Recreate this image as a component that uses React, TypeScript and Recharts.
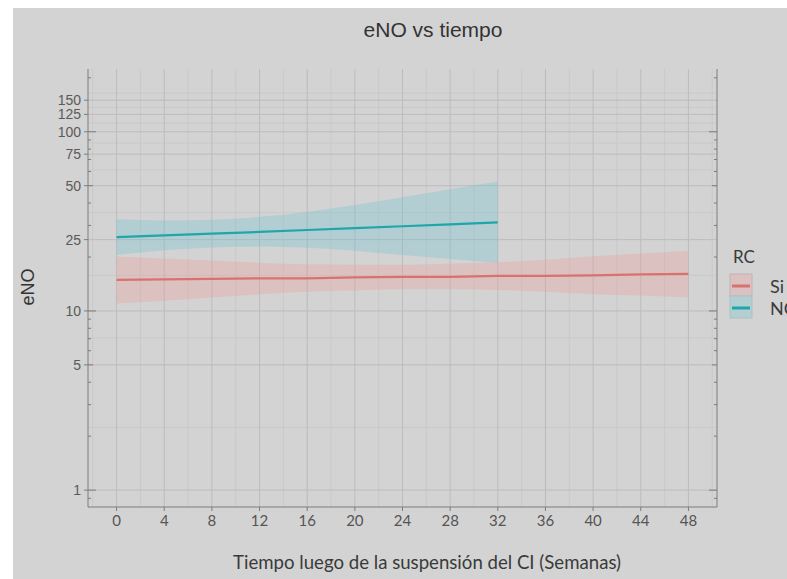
import React from 'react';
import { ComposedChart, XAxis, YAxis, CartesianGrid, Area, Line } from 'recharts';

// ---- data ----
const weeks = [0, 4, 8, 12, 16, 20, 24, 28, 32, 36, 40, 44, 48];
const siFit = [14.9, 15.0, 15.1, 15.2, 15.2, 15.4, 15.5, 15.5, 15.7, 15.7, 15.8, 16.0, 16.1];
const siLower = [11.0, 11.4, 11.9, 12.4, 12.8, 13.0, 13.2, 13.2, 13.1, 12.8, 12.4, 12.2, 11.9];
const siUpper = [20.1, 19.6, 19.1, 18.6, 18.2, 18.1, 18.1, 18.4, 18.7, 19.3, 20.2, 20.9, 21.7];
const noFit = [25.8, 26.4, 27.0, 27.6, 28.3, 29.0, 29.7, 30.4, 31.2];
const noLower = [20.5, 21.8, 22.6, 22.9, 22.5, 21.7, 20.5, 19.5, 18.5];
const noUpper = [32.5, 32.0, 32.3, 33.5, 35.7, 39.0, 43.1, 47.7, 52.7];

const seriesNames = ['Si', 'NO'];
const legendTitle = 'RC';
const chartTitle = 'eNO vs tiempo';
const xTitle = 'Tiempo luego de la suspensión del CI (Semanas)';
const yTitle = 'eNO';

const xTicks = [0, 4, 8, 12, 16, 20, 24, 28, 32, 36, 40, 44, 48];
const xMinor = [-2, 2, 6, 10, 14, 18, 22, 26, 30, 34, 38, 42, 46, 50];
const yTicks = [1, 5, 10, 25, 50, 75, 100, 125, 150];
const yMinor = [2.24, 7.07, 15.8, 35.4, 61.2, 86.6, 111.8, 136.9, 164.3];
const logLong = [1, 10, 100];
const logMid = [5, 50];
const logShort = [0.9, 2, 3, 4, 6, 7, 8, 9, 20, 30, 40, 60, 70, 80, 90, 200];

const xDomain = [-2.4, 50.4];
const yDomain = [0.805, 224];

const leftTicks = Array.from(new Set([...yTicks, ...logLong, ...logMid, ...logShort])).sort((a, b) => a - b);
const rightTicks = [...logLong, ...logMid, ...logShort].sort((a, b) => a - b);

const data = weeks.map((t, i) => ({
  t,
  siFit: siFit[i],
  siBand: [siLower[i], siUpper[i]],
  noFit: i < noFit.length ? noFit[i] : null,
  noBand: i < noFit.length ? [noLower[i], noUpper[i]] : null,
}));

const RED = '#d9726d';
const TEAL = '#1ea6a9';
const BG = '#d3d3d3';
const AXIS = '#7c7c7c';

const logLen = (v: number) =>
  logLong.includes(v) ? 8 : logMid.includes(v) ? 5 : logShort.includes(v) ? 3 : 0;

const LeftTick = (props: any) => {
  const { x, y, payload } = props;
  const v = payload.value as number;
  const ax = x + 7;
  const inLen = logLen(v);
  const labeled = yTicks.includes(v);
  return (
    <g>
      {labeled && <line x1={ax - 4} x2={ax} y1={y} y2={y} stroke={AXIS} />}
      {inLen > 0 && <line x1={ax} x2={ax + inLen} y1={y} y2={y} stroke={AXIS} />}
      {labeled && (
        <text
          x={x}
          y={y}
          dy="0.36em"
          textAnchor="end"
          fontSize={14}
          fill="#5a5a5a"
          fontFamily="Liberation Sans, Arial, sans-serif"
        >
          {v}
        </text>
      )}
    </g>
  );
};

const RightTick = (props: any) => {
  const { x, y, payload } = props;
  const len = logLen(payload.value as number);
  return <line x1={x - len} x2={x} y1={y} y2={y} stroke={AXIS} />;
};

export default function App() {
  const W = 774;
  const H = 571;
  return (
    <div style={{ position: 'absolute', left: 13, top: 8, width: W, height: H, background: BG, overflow: 'hidden' }}>
      <ComposedChart
        width={W}
        height={H}
        data={data}
        margin={{ top: 61, right: 60, bottom: 42, left: 15 }}
      >
        <CartesianGrid
          xAxisId={0}
          yAxisId="y"
          horizontalValues={yMinor}
          verticalValues={xMinor}
          stroke="#c9c9c9"
          strokeWidth={1}
        />
        <CartesianGrid
          xAxisId={0}
          yAxisId="y"
          horizontalValues={yTicks}
          verticalValues={xTicks}
          stroke="#bcbcbc"
          strokeWidth={1}
        />
        <XAxis
          xAxisId={0}
          dataKey="t"
          type="number"
          domain={xDomain}
          allowDataOverflow
          ticks={xTicks}
          interval={0}
          height={30}
          tickSize={4}
          tickMargin={4}
          axisLine={{ stroke: AXIS }}
          tickLine={{ stroke: AXIS }}
          tick={{ fill: '#555', fontSize: 15, fontFamily: 'Lato, sans-serif' }}
        />
        <XAxis
          xAxisId="top"
          orientation="top"
          mirror
          type="number"
          domain={xDomain}
          allowDataOverflow
          tick={false}
          tickLine={false}
          axisLine={{ stroke: AXIS }}
          height={0}
        />
        <YAxis
          yAxisId="y"
          scale="log"
          type="number"
          domain={yDomain}
          allowDataOverflow
          ticks={leftTicks}
          interval={0}
          width={60}
          tickSize={4}
          tickMargin={3}
          axisLine={{ stroke: AXIS }}
          tickLine={false}
          tick={LeftTick}
        />
        <YAxis
          yAxisId="r"
          orientation="right"
          scale="log"
          type="number"
          domain={yDomain}
          allowDataOverflow
          ticks={rightTicks}
          interval={0}
          width={10}
          tickSize={0}
          tickMargin={0}
          axisLine={{ stroke: AXIS }}
          tickLine={false}
          tick={RightTick}
        />
        <Area
          yAxisId="y"
          dataKey="siBand"
          type="monotone"
          stroke="none"
          fill="#f09a99"
          fillOpacity={0.3}
          isAnimationActive={false}
          activeDot={false}
        />
        <Area
          yAxisId="y"
          dataKey="noBand"
          type="monotone"
          stroke="none"
          fill="#67c5cf"
          fillOpacity={0.3}
          isAnimationActive={false}
          activeDot={false}
        />
        <Line
          yAxisId="y"
          dataKey="siFit"
          type="linear"
          stroke={RED}
          strokeWidth={2.2}
          dot={false}
          activeDot={false}
          isAnimationActive={false}
        />
        <Line
          yAxisId="y"
          dataKey="noFit"
          type="linear"
          stroke={TEAL}
          strokeWidth={2.2}
          dot={false}
          activeDot={false}
          isAnimationActive={false}
        />
      </ComposedChart>
      <svg
        width={W}
        height={H}
        style={{ position: 'absolute', left: 0, top: 0, pointerEvents: 'none' }}
      >
        <text x={420} y={29} textAnchor="middle" fontSize={21} fill="#333" fontFamily="Liberation Sans, Arial, sans-serif">
          {chartTitle}
        </text>
        <text x={220} y={561} fontSize={20} fill="#3a3a3a" fontFamily="Lato, sans-serif" textLength={388} lengthAdjust="spacingAndGlyphs">
          {xTitle}
        </text>
        <text x={21} y={279} textAnchor="middle" fontSize={18} fill="#333" fontFamily="Liberation Sans, Arial, sans-serif" transform="rotate(-90, 21, 279)">
          {yTitle}
        </text>
        <text x={720} y={255} fontSize={17} fill="#3a3a3a" fontFamily="Lato, sans-serif">
          {legendTitle}
        </text>
        <rect x={717} y={266} width={22} height={22} fill="#dbc1c1" stroke="#c4b4b4" />
        <line x1={719} x2={737} y1={278} y2={278} stroke={RED} strokeWidth={3} />
        <rect x={717} y={288} width={22} height={22} fill="#b3cfd2" stroke="#a9c1c3" />
        <line x1={719} x2={737} y1={300} y2={300} stroke={TEAL} strokeWidth={3} />
        <text x={757} y={285} fontSize={18} fill="#3a3a3a" fontFamily="Lato, sans-serif">
          {seriesNames[0]}
        </text>
        <text x={757} y={307} fontSize={18} fill="#3a3a3a" fontFamily="Lato, sans-serif">
          {seriesNames[1]}
        </text>
      </svg>
    </div>
  );
}
